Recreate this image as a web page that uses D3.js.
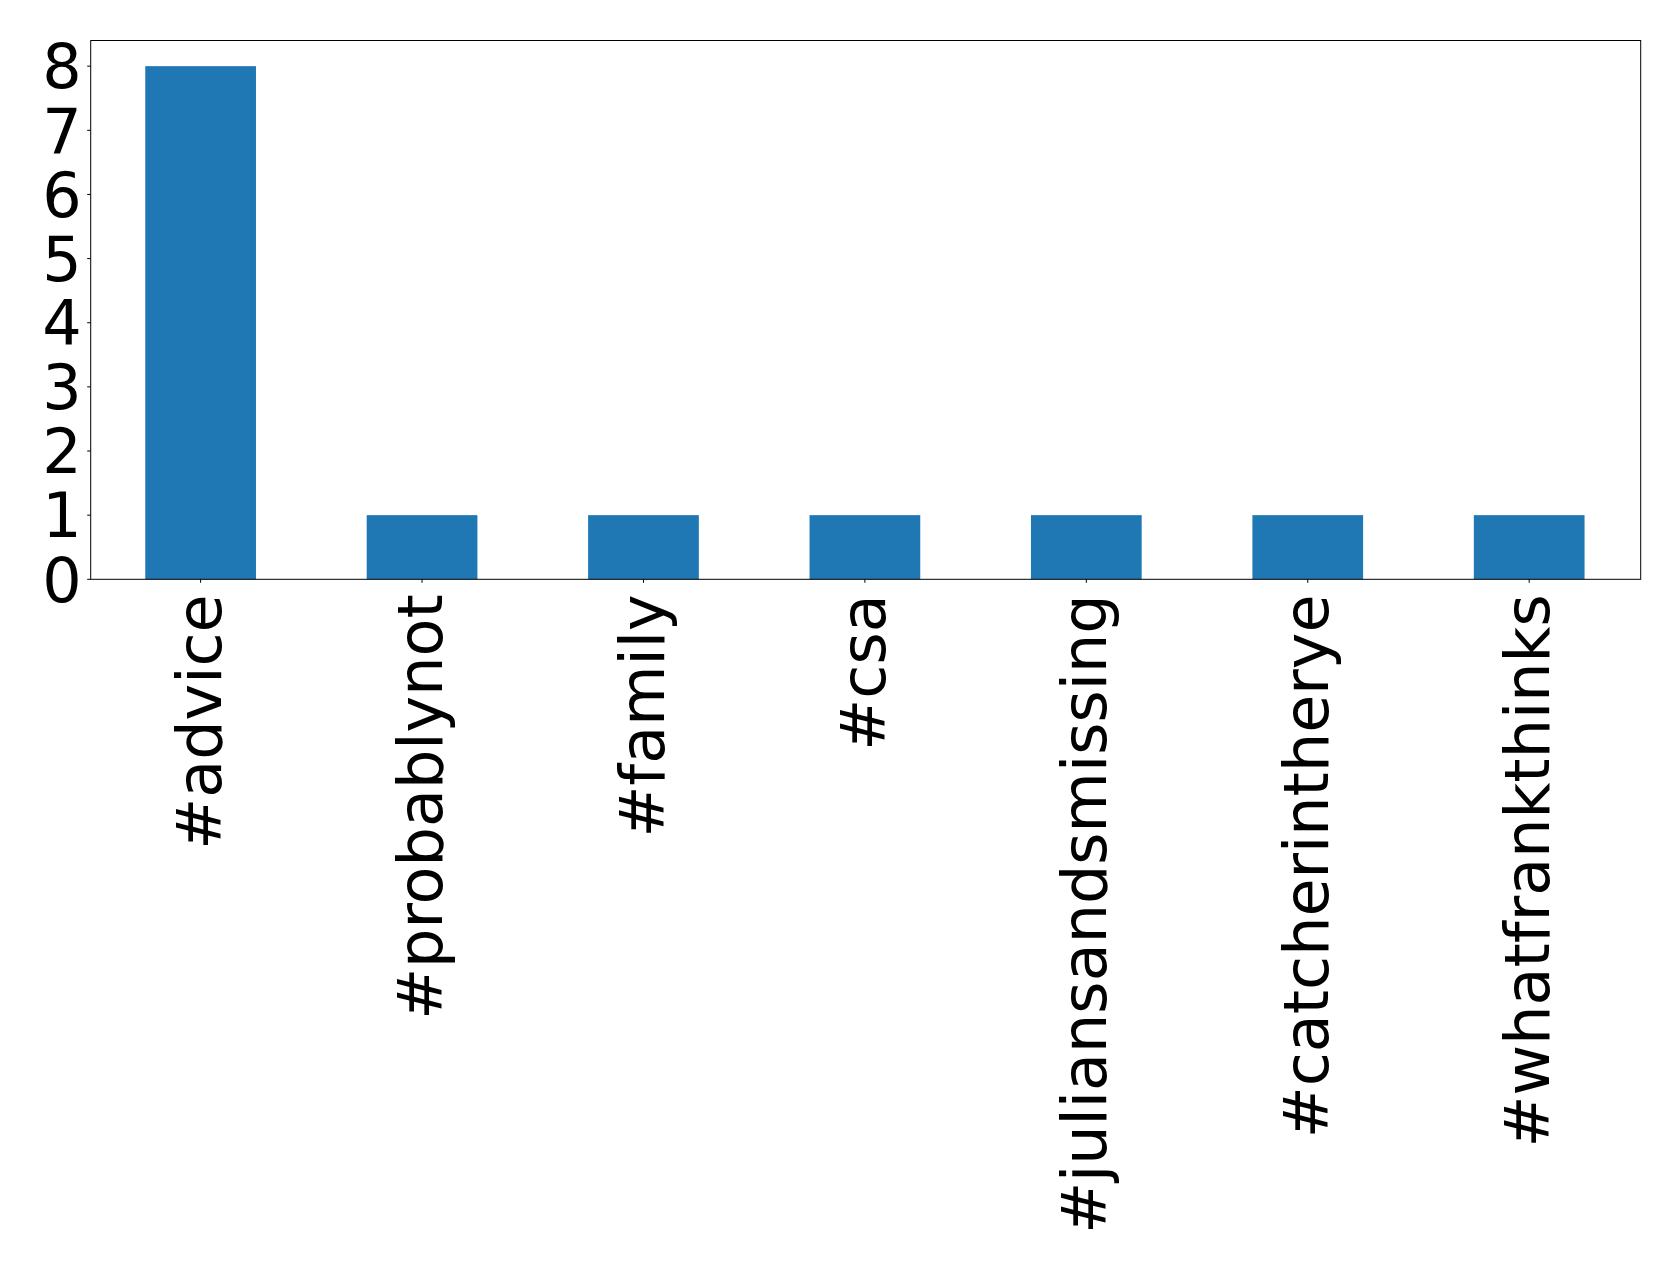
<!DOCTYPE html>
<html>
<head>
<meta charset="utf-8">
<script src="https://cdn.jsdelivr.net/npm/d3@7"></script>
<style>
  html, body { margin: 0; padding: 0; background: #fff; }
  svg { display: block; }
  text { font-family: "DejaVu Sans", sans-serif; fill: #000; }
</style>
</head>
<body>
<script>
const categories = ["#advice", "#probablynot", "#family", "#csa", "#juliansandsmissing", "#catcherintherye", "#whatfrankthinks"];
const counts = [8, 1, 1, 1, 1, 1, 1];
const yTicks = [0, 1, 2, 3, 4, 5, 6, 7, 8];

const W = 1679, H = 1272;
const plotLeft = 90.7, plotRight = 1640.7, plotTop = 40.5, plotBottom = 579.3;
const fontSize = 62;

const svg = d3.select("body").append("svg").attr("width", W).attr("height", H);

const x = d3.scaleBand().domain(categories).range([plotLeft, plotRight])
  .paddingInner(0.5).paddingOuter(0.25);
const y = d3.scaleLinear().domain([0, 8.4]).range([plotBottom, plotTop]);

// bars
svg.append("g").selectAll("rect").data(categories).join("rect")
  .attr("x", d => x(d) - 0.8)
  .attr("width", x.bandwidth())
  .attr("y", (d, i) => y(counts[i]))
  .attr("height", (d, i) => y(0) - y(counts[i]))
  .attr("fill", "#1f77b4");

// frame
svg.append("rect")
  .attr("x", plotLeft).attr("y", plotTop)
  .attr("width", plotRight - plotLeft).attr("height", plotBottom - plotTop)
  .attr("fill", "none").attr("stroke", "#000").attr("stroke-width", 1);

// y axis
const yAxis = svg.append("g");
yAxis.selectAll("line").data(yTicks).join("line")
  .attr("x1", plotLeft - 3.5).attr("x2", plotLeft)
  .attr("y1", d => y(d)).attr("y2", d => y(d))
  .attr("stroke", "#000").attr("stroke-width", 1);
yAxis.selectAll("text").data(yTicks).join("text")
  .attr("x", plotLeft - 9)
  .attr("y", d => y(d))
  .attr("dy", "0.36em")
  .attr("text-anchor", "end")
  .style("font-size", fontSize + "px")
  .text(d => d);

// x axis
const xAxis = svg.append("g");
xAxis.selectAll("line").data(categories).join("line")
  .attr("x1", d => x(d) + x.bandwidth() / 2 - 0.8).attr("x2", d => x(d) + x.bandwidth() / 2 - 0.8)
  .attr("y1", plotBottom).attr("y2", plotBottom + 3.5)
  .attr("stroke", "#000").attr("stroke-width", 1);
xAxis.selectAll("text").data(categories).join("text")
  .attr("transform", d => `translate(${x(d) + x.bandwidth() / 2},${plotBottom + 15}) rotate(-90)`)
  .attr("text-anchor", "end")
  .attr("dy", "0.31em")
  .style("font-size", fontSize + "px")
  .text(d => d);
</script>
</body>
</html>
